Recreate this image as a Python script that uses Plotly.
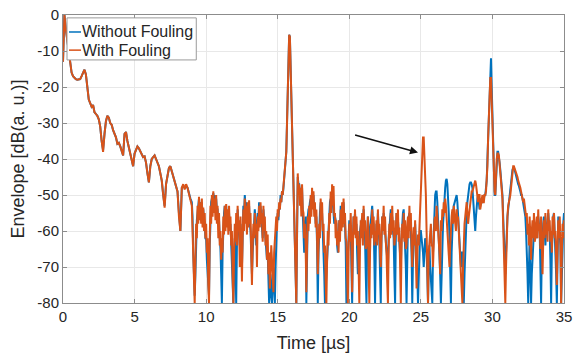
import numpy as np
import plotly.graph_objects as go

# time base (µs): 0.1 µs sampling up to 8.9 µs, 0.05 µs sampling from 9 µs to 35 µs
t_early = np.round(np.linspace(0, 8.9, 90), 2)
t_late = np.round(np.linspace(9, 35, 521), 2)
t = np.concatenate([t_early, t_late])

# ---- 0 .. 8.9 µs (shared decay, 0.1 µs steps) ----
with_early = [
    -13, 0, -4, -7, -10, -14, -16, -17, -17.5, -17.8,
    -18, -18, -17.8, -17, -16, -15.2, -16.5, -21, -23.5, -24.5,
    -25.5, -25, -27, -27.5, -28, -29, -31, -35, -38, -33,
    -29.5, -28, -28.5, -30, -30.5, -32, -33, -34, -35.8, -35.5,
    -36.5, -38, -39, -33, -32.5, -35, -37, -38, -40.5, -42,
    -38.5, -37.5, -36.5, -37, -38, -39, -39.5, -39.3, -41, -44,
    -46.5, -42, -40, -39.5, -39, -40, -41, -42, -44, -46,
    -50, -53.5, -47, -44, -42.5, -42, -43.5, -45, -46, -48,
    -49, -56, -60, -48, -47, -48.5, -47, -48, -50, -51,
]
without_early = [
    -13, 0, -4, -7, -10, -14, -16, -17, -17.5, -17.8,
    -18, -18, -17.8, -17, -16, -15.2, -16.5, -21, -23.5, -24.5,
    -25.5, -25, -27, -27.5, -28, -29, -31, -35, -37.5, -33,
    -29.5, -28, -28.5, -30, -30.5, -32, -33, -34, -35.8, -35.5,
    -36.5, -38, -39, -33, -32.5, -35, -37, -38, -40.5, -42,
    -38.5, -37.5, -36.5, -37, -38, -39, -39.5, -39.3, -41, -44,
    -46.5, -42, -40, -39.5, -39, -40, -41, -42, -44, -46,
    -50, -53, -47, -44, -42.5, -42, -43.5, -45, -46, -48,
    -49, -55, -60, -48, -47.5, -48, -47.5, -48, -50, -51,
]

# ---- 9 .. 35 µs (0.05 µs steps, one row per µs) ----
with_late = [
    -53, -60, -66, -74, -80, -68, -58, -62, -53, -58, -50.5, -57, -52, -58, -51, -59, -53.5, -60, -55, -62,
    -58, -66, -62, -75, -80, -62, -53, -58, -50, -56, -49, -55, -51, -57, -50, -58, -53, -62, -55, -64,
    -60, -68, -62, -66, -56, -61, -53, -60, -52.5, -59, -54, -61, -53, -60, -56, -64, -60, -72, -80, -66,
    -58, -63, -55, -64, -53, -60, -57, -70, -56, -63, -74, -62, -54, -60, -51, -58, -53, -61, -52, -59,
    -51.5, -58, -55, -66, -75, -64, -58, -62, -55, -61, -58, -70, -56, -60, -53, -59, -52, -58, -55, -63,
    -53, -60, -56, -64, -60, -68, -61, -72, -66, -76, -70, -64, -68, -74, -77, -66, -62, -59, -56, -60,
    -54, -56, -52, -54, -51, -52, -49, -50, -48, -46, -44, -42, -38, -30, -22, -12, -5.5, -6, -14, -24,
    -34, -42, -48, -55, -62, -70, -80, -60, -44, -50, -47, -53, -48, -56, -47, -54, -55, -62, -58, -64,
    -77, -64, -56, -60, -53, -58, -50, -56, -48, -54, -49, -56, -52, -59, -54, -62, -72, -64, -58, -62,
    -51, -57, -52, -60, -58, -66, -64, -74, -80, -68, -60, -64, -55, -58, -49, -55, -47, -53, -47.5, -56,
    -55, -62, -57, -64, -60, -66, -57, -63, -54, -60, -52, -59, -51, -58, -55, -62, -63, -72, -80, -66,
    -58, -63, -55, -64, -77, -64, -56, -61, -54, -62, -56, -64, -60, -70, -80, -64, -57, -62, -55, -64,
    -53, -60, -57, -65, -64, -61, -56, -70, -80, -66, -58, -62, -54, -61, -56, -64, -60, -63, -57, -64,
    -54, -61, -58, -66, -70, -62, -56, -60, -53, -61, -56, -63, -66, -74, -80, -65, -58, -62, -55, -61,
    -53, -60, -57, -64, -62, -60, -55, -61, -54, -63, -59, -70, -80, -65, -58, -62, -55, -63, -57, -65,
    -64, -59, -56, -62, -53, -60, -55, -64, -70, -63, -59, -64, -57, -67, -76, -67, -61, -64, -58, -57,
    -50, -44, -37, -34, -34, -38, -42, -50, -60, -70, -80, -66, -62, -58, -58, -64, -64, -70, -60, -57,
    -56, -60, -53, -56, -58, -64, -66, -72, -57, -60, -54, -56, -52, -55, -51, -53, -56, -60, -62, -68,
    -70, -64, -58, -56, -54, -58, -53, -56, -57, -60, -54, -57, -56, -60, -62, -66, -70, -75, -80, -70,
    -62, -58, -56, -54, -52, -55, -58, -56, -54, -52, -50, -49, -49, -48, -47, -46, -46, -47, -49, -51,
    -52, -50, -50, -54, -53, -51, -50, -52, -52, -50, -50, -49, -46, -42, -34, -26, -20, -17.5, -17.5, -24,
    -32, -40, -46, -49, -50, -44, -40, -38.5, -38.5, -39, -41, -43, -45, -48, -51, -58, -68, -80, -80, -70,
    -60, -56, -53, -52, -51.5, -50, -48, -45, -43, -42, -42, -42.5, -43.5, -44, -44.5, -45, -46, -46.5, -47, -48,
    -49, -50, -50, -52, -51, -53, -54, -56, -55, -61, -58, -64, -56, -63, -68, -60, -57, -62, -55, -63,
    -62, -58, -56, -62, -54, -60, -58, -65, -56, -63, -72, -63, -57, -62, -55, -61, -58, -63, -54, -60,
    -57, -63, -60, -66, -56, -61, -55, -62, -60, -68, -75, -64, -57, -62, -56, -63, -80, -66, -58, -62,
    -57,
]
without_late = [
    -52, -56, -66, -74, -78, -72, -60, -57, -55, -53, -51, -54, -52, -55, -52, -56, -54, -57, -58, -62,
    -62, -68, -72, -78, -78, -64, -56, -52, -51, -50, -49.5, -51, -50, -53, -51, -54, -54, -58, -57, -62,
    -65, -72, -80, -66, -57, -55, -53, -56, -53, -58, -56, -58, -55, -60, -58, -64, -70, -76, -80, -72,
    -62, -70, -80, -64, -54, -57, -60, -64, -58, -62, -70, -62, -53, -55, -50, -53, -52, -55, -55, -58,
    -53, -58, -60, -66, -72, -66, -62, -58, -54, -58, -64, -60, -55, -57, -52, -55, -53, -56, -58, -62,
    -54, -57, -58, -62, -63, -68, -66, -72, -80, -76, -72, -78, -80, -74, -70, -76, -80, -70, -60, -58,
    -55, -57, -53, -54, -50, -52, -49, -50, -48, -46, -44, -42, -38, -30, -22, -12, -5.5, -6, -14, -24,
    -34, -40, -47, -55, -63, -72, -80, -62, -45, -47, -47, -49, -49, -53, -48, -55, -60, -66, -58, -56,
    -80, -64, -56, -54, -54, -52, -51, -53, -49, -51, -50, -54, -53, -58, -56, -64, -80, -66, -57, -55,
    -52, -56, -55, -60, -63, -72, -80, -76, -72, -64, -60, -56, -53, -52, -51, -53, -49, -52, -54, -58,
    -56, -58, -58, -64, -66, -62, -57, -60, -53, -56, -55, -54, -52, -56, -58, -64, -80, -72, -66, -60,
    -57, -62, -60, -70, -80, -64, -56, -58, -55, -60, -58, -66, -72, -68, -66, -60, -58, -57, -56, -60,
    -54, -58, -62, -72, -80, -64, -56, -60, -64, -60, -58, -55, -53, -57, -58, -68, -80, -66, -58, -60,
    -55, -60, -63, -72, -80, -62, -56, -58, -55, -58, -60, -62, -64, -68, -70, -62, -58, -56, -54, -58,
    -56, -60, -62, -72, -80, -62, -55, -57, -57, -60, -64, -68, -70, -62, -57, -55, -54, -58, -62, -70,
    -80, -66, -58, -56, -55, -58, -60, -66, -80, -68, -62, -60, -58, -62, -66, -72, -80, -70, -62, -60,
    -60, -62, -63, -66, -70, -66, -62, -64, -66, -72, -80, -70, -64, -70, -75, -80, -80, -66, -58, -54,
    -50, -49, -49, -52, -56, -60, -66, -72, -80, -70, -62, -58, -55, -50, -48, -46, -45.5, -47, -50, -55,
    -62, -70, -80, -66, -58, -55, -53, -52, -51, -50, -50, -52, -55, -58, -62, -66, -70, -66, -66, -72,
    -80, -72, -64, -58, -55, -52, -50, -48, -47, -46.5, -46.5, -47, -48, -51, -55, -58, -60, -56, -52, -51,
    -50, -52, -54, -53, -51, -52, -52, -51, -51, -50, -50, -48, -46, -40, -34, -24, -18, -12, -12, -20,
    -30, -40, -47, -50, -50, -44, -39, -38, -38, -39, -41, -43, -45, -47, -50, -56, -62, -68, -72, -66,
    -58, -56, -54, -52, -51, -49, -47, -45, -43, -42.5, -42.5, -43, -44, -44.5, -45, -46, -47, -47.5, -48, -49,
    -50, -50, -51, -52, -53, -55, -56, -60, -64, -72, -80, -70, -62, -70, -80, -72, -66, -62, -60, -62,
    -58, -60, -62, -58, -56, -58, -60, -70, -80, -66, -60, -58, -56, -60, -64, -60, -58, -56, -55, -58,
    -60, -68, -80, -66, -58, -56, -55, -60, -64, -72, -80, -66, -56, -58, -60, -64, -80, -70, -62, -58,
    -55,
]

with_fouling = with_early + with_late
without_fouling = without_early + without_late

x_ticks = [0, 5, 10, 15, 20, 25, 30, 35]
y_ticks = [0, -10, -20, -30, -40, -50, -60, -70, -80]
y_tick_labels = ["0", "-10", "-20", "-30", "-40", "-50", "-60", "-70", "-80"]
series_names = ["Without Fouling", "With Fouling"]

# arrow pointing to the fouling echo (tail, head) in data units
arrow_tail = (20.3, -33.2)
arrow_head = (24.8, -38.2)

BLUE = "#0072BD"
ORANGE = "#D95319"
AXIS = "#8c8c8c"
TEXT = "#262626"

fig = go.Figure()
fig.add_trace(go.Scatter(x=t, y=without_fouling, mode="lines", name=series_names[0],
                         line=dict(color=BLUE, width=2), showlegend=False))
fig.add_trace(go.Scatter(x=t, y=with_fouling, mode="lines", name=series_names[1],
                         line=dict(color=ORANGE, width=2), showlegend=False))

fig.add_annotation(x=arrow_head[0], y=arrow_head[1], ax=arrow_tail[0], ay=arrow_tail[1],
                   xref="x", yref="y", axref="x", ayref="y", text="", showarrow=True,
                   arrowhead=2, arrowsize=1, arrowwidth=1.6, arrowcolor="#111111")

# MATLAB-style compact legend box (top-left, inside axes)
fig.add_shape(type="rect", xref="paper", yref="paper", x0=0.008, x1=0.266, y0=0.844, y1=0.990,
              line=dict(color="#9a9a9a", width=1), fillcolor="white", layer="above")
for name, color, yy in [(series_names[0], BLUE, 0.941), (series_names[1], ORANGE, 0.878)]:
    fig.add_shape(type="line", xref="paper", yref="paper", x0=0.012, x1=0.036, y0=yy, y1=yy,
                  line=dict(color=color, width=1.5), layer="above")
    fig.add_annotation(xref="paper", yref="paper", x=0.033, y=yy, text=name, showarrow=False,
                       xanchor="left", yanchor="middle", font=dict(size=16, color=TEXT))

fig.update_layout(
    width=579, height=354,
    margin=dict(l=63, r=15, t=15, b=51),
    paper_bgcolor="white", plot_bgcolor="white",
    font=dict(family="Liberation Sans, Arial, sans-serif", size=15, color=TEXT),
    showlegend=False,
)
fig.update_xaxes(range=[0, 35], tickvals=x_ticks, showgrid=True, gridcolor="#e8e8e8",
                 showline=True, linecolor=AXIS, mirror="ticks", ticks="inside",
                 ticklen=4, tickcolor=AXIS, zeroline=False, automargin=False,
                 title=dict(text="Time [µs]", font=dict(size=18, color=TEXT), standoff=12),
                 tickfont=dict(size=15, color=TEXT))
fig.update_yaxes(range=[-80, 0], tickvals=y_ticks, ticktext=y_tick_labels, showgrid=True,
                 gridcolor="#e8e8e8", showline=True, linecolor=AXIS, mirror="ticks",
                 ticks="inside", ticklen=4, tickcolor=AXIS, zeroline=False, automargin=False,
                 title=dict(text="Envelope [dB(a. u.)]", font=dict(size=18, color=TEXT), standoff=8),
                 tickfont=dict(size=15, color=TEXT))

# remove the browser's default 8 px page margin so the figure sits at the window origin
fig.write_html("out.html", config={"displayModeBar": False},
               post_script="document.body.style.margin='0px';")
